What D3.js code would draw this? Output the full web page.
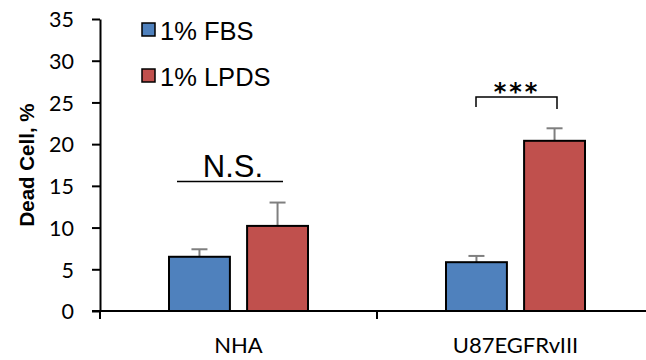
<!DOCTYPE html>
<html><head><meta charset="utf-8">
<script src="https://cdn.jsdelivr.net/npm/d3@7"></script>
<style>body{margin:0;background:#fff}svg{display:block}</style>
</head><body><svg id="c" width="646" height="360"></svg>
<script>
const categories = ["NHA", "U87EGFRvIII"];
const seriesNames = ["1% FBS", "1% LPDS"];
const fbsValues = [6.5, 5.85];
const lpdsValues = [10.2, 20.4];
const fbsErrors = [0.9, 0.75];
const lpdsErrors = [2.8, 1.5];
const yTicks = [0, 5, 10, 15, 20, 25, 30, 35];
const colors = ["#4F81BD", "#C0504D"];

const svg = d3.select("#c");
const x0 = 100, x1 = 654, yb = 311, yt = 19;
const x = d3.scaleBand().domain(categories).range([x0, x1]).paddingInner(0).paddingOuter(0);
const y = d3.scaleLinear().domain([0, 35]).range([yb, yt]);
const inner = d3.scaleBand().domain([0, 1]).range([69, 277 - 69]).paddingInner(0.22);

// y axis
const yAxis = svg.append("g").attr("transform", `translate(${x0},0)`)
  .call(d3.axisLeft(y).tickValues(yTicks).tickSize(8).tickPadding(18).tickSizeOuter(0));
yAxis.select(".domain").attr("stroke", "#000").attr("stroke-width", 2);
yAxis.selectAll(".tick line").attr("stroke", "#000").attr("stroke-width", 2);
yAxis.selectAll(".tick text").attr("font-family", "Lato").attr("font-size", 21.5).attr("fill", "#000").attr("dy", "0.36em");

// x axis
const xAxis = svg.append("g").attr("transform", `translate(0,${yb})`)
  .call(d3.axisBottom(x).tickSize(0).tickPadding(26).tickSizeOuter(0));
xAxis.select(".domain").remove();
svg.append("line").attr("x1", x0 - 8).attr("x2", 646).attr("y1", yb).attr("y2", yb).attr("stroke", "#000").attr("stroke-width", 2);
[x0, x(categories[1])].forEach(v => svg.append("line").attr("x1", v).attr("x2", v).attr("y1", yb).attr("y2", yb + 8).attr("stroke", "#000").attr("stroke-width", 2));
xAxis.selectAll(".tick text").attr("font-family", "Lato").attr("font-size", 22).attr("fill", "#000");

const series = [fbsValues, lpdsValues];
const errs = [fbsErrors, lpdsErrors];
series.forEach((vals, si) => {
  const g = svg.append("g");
  g.selectAll("line.eb").data(vals).join("line")
    .attr("x1", (d, i) => x(categories[i]) + inner(si) + inner.bandwidth() / 2)
    .attr("x2", (d, i) => x(categories[i]) + inner(si) + inner.bandwidth() / 2)
    .attr("y1", d => y(d)).attr("y2", (d, i) => y(d + errs[si][i]))
    .attr("stroke", "#7f7f7f").attr("stroke-width", 2);
  g.selectAll("line.cap").data(vals).join("line")
    .attr("x1", (d, i) => x(categories[i]) + inner(si) + inner.bandwidth() / 2 - 8)
    .attr("x2", (d, i) => x(categories[i]) + inner(si) + inner.bandwidth() / 2 + 8)
    .attr("y1", (d, i) => y(d + errs[si][i])).attr("y2", (d, i) => y(d + errs[si][i]))
    .attr("stroke", "#7f7f7f").attr("stroke-width", 2);
  g.selectAll("rect").data(vals).join("rect")
    .attr("x", (d, i) => x(categories[i]) + inner(si))
    .attr("width", inner.bandwidth())
    .attr("y", d => y(d)).attr("height", d => yb - y(d))
    .attr("fill", colors[si]).attr("stroke", "#000").attr("stroke-width", 2);
});

// legend
seriesNames.forEach((n, i) => {
  const ly = 23 + i * 46;
  svg.append("rect").attr("x", 142).attr("y", ly).attr("width", 13).attr("height", 13)
    .attr("fill", colors[i]).attr("stroke", "#000").attr("stroke-width", 1.5);
  svg.append("text").attr("x", 160).attr("y", ly + 17).text(n)
    .attr("font-family", "Liberation Sans, Arial").attr("font-size", 25.5).attr("fill", "#000");
});

// y title
svg.append("text").attr("transform", `translate(34,${(yb + yt) / 2}) rotate(-90)`)
  .attr("text-anchor", "middle").attr("font-family", "Liberation Sans, Arial")
  .attr("font-weight", "bold").attr("font-size", 20.5).text("Dead Cell, %");

// N.S. annotation
svg.append("line").attr("x1", 177).attr("x2", 283).attr("y1", 181.5).attr("y2", 181.5).attr("stroke", "#000").attr("stroke-width", 1.5);
svg.append("text").attr("x", 233).attr("y", 177).attr("text-anchor", "middle")
  .attr("font-family", "Liberation Sans, Arial").attr("font-size", 31).text("N.S.");

// *** bracket
svg.append("path").attr("d", "M476,107V97H557V109").attr("fill", "none").attr("stroke", "#000").attr("stroke-width", 1.5);
svg.append("text").attr("x", 517).attr("y", 100).attr("text-anchor", "middle")
  .attr("font-family", "DejaVu Sans").attr("font-weight", "bold").attr("font-size", 24)
  .attr("letter-spacing", 3).text("***");
</script></body></html>
